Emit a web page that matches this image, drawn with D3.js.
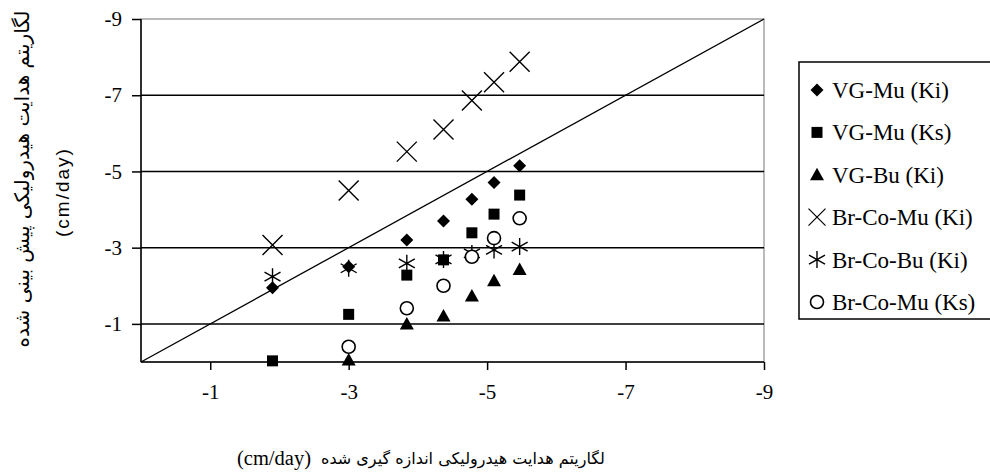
<!DOCTYPE html>
<html>
<head>
<meta charset="utf-8">
<script src="https://cdn.jsdelivr.net/npm/d3@7"></script>
<style>
  body { margin: 0; background: #fff; }
  svg { display: block; }
</style>
</head>
<body>
<div id="chart"></div>
<script>
const width = 990;
const height = 474;

// measured log K (x) for each column of points
const measured = [-1.9, -3.0, -3.84, -4.37, -4.78, -5.1, -5.47];

// predicted log K (y) per model
const vgMuKi   = [-1.95, -2.5, -3.2, -3.7, -4.27, -4.71, -5.15];
const vgMuKs   = [-0.03, -1.25, -2.28, -2.68, -3.39, -3.88, -4.38];
const vgBuKi   = [null, -0.05, -1.0, -1.21, -1.73, -2.13, -2.43];
const brCoMuKi = [-3.07, -4.5, -5.52, -6.1, -6.86, -7.34, -7.88];
const brCoBuKi = [-2.24, -2.46, -2.59, -2.69, -2.85, -2.94, -3.03];
const brCoMuKs = [null, -0.4, -1.41, -2.0, -2.76, -3.25, -3.77];

const seriesNames = ['VG-Mu (Ki)', 'VG-Mu (Ks)', 'VG-Bu (Ki)', 'Br-Co-Mu (Ki)', 'Br-Co-Bu (Ki)', 'Br-Co-Mu (Ks)'];
const seriesValues = [vgMuKi, vgMuKs, vgBuKi, brCoMuKi, brCoBuKi, brCoMuKs];
const seriesShapes = ['diamond', 'square', 'triangle', 'cross', 'asterisk', 'circle'];

const xTicks = [-1, -3, -5, -7, -9];
const yTicks = [-1, -3, -5, -7, -9];
const lineEnds = [0, -9];

const xTitle = 'لگاریتم هدایت هیدرولیکی اندازه گیری شده';
const yTitle = 'لگاریتم هدایت هیدرولیکی پیش بینی شده';
const unit = '(cm/day)';

const plot = { left: 141, right: 764, top: 19, bottom: 362 };

const x = d3.scaleLinear().domain([0, -9]).range([plot.left, plot.right]);
const y = d3.scaleLinear().domain([0, -9]).range([plot.bottom, plot.top]);

const serif = "'Liberation Serif', 'Times New Roman', 'DejaVu Sans', serif";

const svg = d3.select('#chart')
    .append('svg')
    .attr('width', width)
    .attr('height', height)

svg.append('rect').attr('width', width).attr('height', height).attr('fill', '#fff')

// marker shapes, local coordinates around the point
function shapePath(type) {
    switch (type) {
        case 'diamond': return 'M0,-6.5L6.5,0L0,6.5L-6.5,0Z';
        case 'square': return 'M-5.5,-5.5H5.5V5.5H-5.5Z';
        case 'triangle': return 'M0,-7L7,5.5L-7,5.5Z';
        case 'cross': return 'M-10,-10L10,10M-10,10L10,-10';
        case 'asterisk': return 'M0,-8.5V8.5M-8,-4.5L8,4.5M-8,4.5L8,-4.5';
        case 'circle': return d3.arc()({ innerRadius: 0, outerRadius: 6.5, startAngle: 0, endAngle: 2 * Math.PI });
    }
}

function drawMarker(sel, type) {
    sel.append('path')
        .attr('d', shapePath(type))
        .attr('fill', type === 'circle' ? '#fff' : (type === 'cross' || type === 'asterisk') ? 'none' : '#000')
        .attr('stroke', (type === 'cross' || type === 'asterisk' || type === 'circle') ? '#000' : 'none')
        .attr('stroke-width', type === 'circle' ? 1.6 : 1.4)
}

// plot border (top / right grey)
svg.append('rect')
    .attr('x', plot.left).attr('y', plot.top)
    .attr('width', plot.right - plot.left).attr('height', plot.bottom - plot.top)
    .attr('fill', 'none').attr('stroke', '#8c8c8c').attr('stroke-width', 1.2)

// gridlines
svg.append('g')
    .selectAll('line')
    .data(yTicks.filter(d => d !== -9))
    .enter()
    .append('line')
    .attr('x1', plot.left).attr('x2', plot.right)
    .attr('y1', d => y(d)).attr('y2', d => y(d))
    .attr('stroke', '#000').attr('stroke-width', 1.5)

// axes
const xAxis = svg.append('g')
    .attr('transform', 'translate(0,' + plot.bottom + ')')
    .call(d3.axisBottom(x).tickValues(xTicks).tickSize(8).tickPadding(14).tickFormat(d => String(d)))
xAxis.select('.domain').attr('stroke', '#000').attr('stroke-width', 1.5).attr('d', 'M' + plot.left + ',0H' + plot.right)
xAxis.selectAll('.tick line').attr('stroke', '#000').attr('stroke-width', 1.5)
xAxis.selectAll('.tick text').attr('font-family', serif).attr('font-size', 21).attr('fill', '#000')

const yAxis = svg.append('g')
    .attr('transform', 'translate(' + plot.left + ',0)')
    .call(d3.axisLeft(y).tickValues(yTicks).tickSize(9).tickPadding(10).tickFormat(d => String(d)))
yAxis.select('.domain').attr('stroke', '#000').attr('stroke-width', 1.5).attr('d', 'M0,' + plot.top + 'V' + plot.bottom)
yAxis.selectAll('.tick line').attr('stroke', '#000').attr('stroke-width', 1.5)
yAxis.selectAll('.tick text').attr('font-family', serif).attr('font-size', 21).attr('fill', '#000')

// 1:1 line
svg.append('line')
    .attr('x1', x(lineEnds[0])).attr('y1', y(lineEnds[0]))
    .attr('x2', x(lineEnds[1])).attr('y2', y(lineEnds[1]))
    .attr('stroke', '#000').attr('stroke-width', 1.3)

// points
seriesValues.forEach((vals, si) => {
    const pts = vals.map((v, i) => ({ x: measured[i], y: v })).filter(d => d.y !== null);
    const g = svg.append('g')
        .selectAll('g')
        .data(pts)
        .enter()
        .append('g')
        .attr('transform', d => 'translate(' + x(d.x) + ',' + y(d.y) + ')')
    drawMarker(g, seriesShapes[si]);
});

// legend
const legend = svg.append('g')
legend.append('rect')
    .attr('x', 799).attr('y', 62).attr('width', 200).attr('height', 257)
    .attr('fill', '#fff').attr('stroke', '#000').attr('stroke-width', 1.5)

const legendItem = legend.selectAll('g.item')
    .data(seriesNames)
    .enter()
    .append('g')
    .attr('class', 'item')
    .attr('transform', (d, i) => 'translate(817,' + (90 + i * 42.4) + ')')

legendItem.each(function (d, i) { drawMarker(d3.select(this), seriesShapes[i]); })
legendItem.select('path').attr('transform', (d, i) => seriesShapes[i] === 'cross' ? 'scale(0.85)' : null)

legendItem.append('text')
    .attr('x', 15)
    .attr('dy', '0.35em')
    .attr('font-family', serif)
    .attr('font-size', 23)
    .text(d => d)

// x axis title: unit on the left, persian text to its right
svg.append('text')
    .attr('x', 237).attr('y', 458)
    .attr('dy', '0.35em')
    .attr('font-family', serif)
    .attr('font-size', 20.5)
    .text(unit)

svg.append('text')
    .attr('x', 605).attr('y', 458)
    .attr('text-anchor', 'end')
    .attr('dy', '0.35em')
    .attr('font-family', "'DejaVu Sans', sans-serif")
    .attr('font-size', 16)
    .text(xTitle)

// y axis title, two lines
svg.append('text')
    .attr('transform', 'translate(22,179) rotate(-90)')
    .attr('text-anchor', 'middle')
    .attr('dy', '0.35em')
    .attr('font-family', "'DejaVu Sans', sans-serif")
    .attr('font-size', 20)
    .text(yTitle)

svg.append('text')
    .attr('transform', 'translate(62,192) rotate(-90)')
    .attr('text-anchor', 'middle')
    .attr('dy', '0.35em')
    .attr('font-family', "'Liberation Sans', Arial, sans-serif")
    .attr('font-size', 19)
    .attr('letter-spacing', 2)
    .text(unit)
</script>
</body>
</html>
